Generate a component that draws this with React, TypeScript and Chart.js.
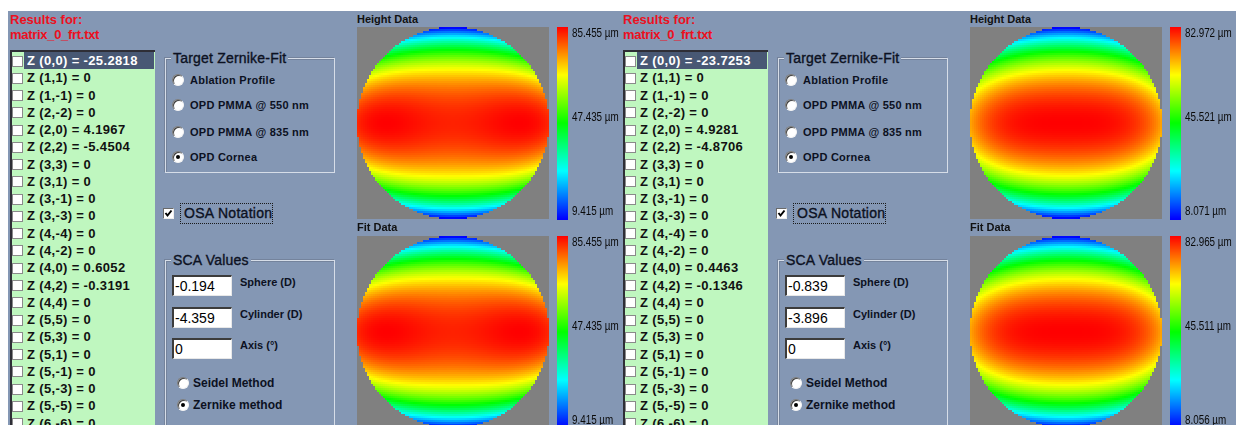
import React, { useEffect, useRef } from "react";
import { Chart, registerables } from "chart.js";
Chart.register(...registerables);

// ---------- data ----------
const fileName = "matrix_0_frt.txt";
const zernikeTerms = ["(0,0)","(1,1)","(1,-1)","(2,-2)","(2,0)","(2,2)","(3,3)","(3,1)","(3,-1)","(3,-3)","(4,-4)","(4,-2)","(4,0)","(4,2)","(4,4)","(5,5)","(5,3)","(5,1)","(5,-1)","(5,-3)","(5,-5)","(6,-6)"];
const leftCoefficients = [-25.2818,0,0,0,4.1967,-5.4504,0,0,0,0,0,0,0.6052,-0.3191,0,0,0,0,0,0,0,0];
const rightCoefficients = [-23.7253,0,0,0,4.9281,-4.8706,0,0,0,0,0,0,0.4463,-0.1346,0,0,0,0,0,0,0,0];
const targetOptions = ["Ablation Profile","OPD PMMA @ 550 nm","OPD PMMA @ 835 nm","OPD Cornea"];
const scaLabels = ["Sphere (D)","Cylinder (D)","Axis (°)"];
const leftSca = ["-0.194","-4.359","0"];
const rightSca = ["-0.839","-3.896","0"];
const methodOptions = ["Seidel Method","Zernike method"];
const leftHeightTicks = [85.455, 47.435, 9.415];
const leftFitTicks = [85.455, 47.435, 9.415];
const rightHeightTicks = [82.972, 45.521, 8.071];
const rightFitTicks = [82.965, 45.511, 8.056];

const BG = "rgb(132,151,180)";
const FONT = "'Liberation Sans', Arial, sans-serif";
const INK = "#0c1122";

// ---------- Zernike surface from the listed coefficients ----------
function fact(n: number): number { let r = 1; for (let i = 2; i <= n; i++) r *= i; return r; }
function zernike(n: number, m: number, r: number, th: number): number {
  const am = Math.abs(m);
  let R = 0;
  for (let k = 0; k <= (n - am) / 2; k++) {
    R += ((k % 2 ? -1 : 1) * fact(n - k)) / (fact(k) * fact((n + am) / 2 - k) * fact((n - am) / 2 - k)) * Math.pow(r, n - 2 * k);
  }
  const N = Math.sqrt((2 * (n + 1)) / (m === 0 ? 2 : 1));
  return N * R * (m >= 0 ? Math.cos(am * th) : Math.sin(am * th));
}
const GRID = 96;
function buildCells(coeffs: number[], vmin: number, vmax: number) {
  const terms = zernikeTerms.map((t) => t.replace(/[()]/g, "").split(",").map(Number));
  const raw: { x: number; y: number; w: number }[] = [];
  for (let i = 0; i < GRID; i++) {
    for (let j = 0; j < GRID; j++) {
      const x = -1 + ((i + 0.5) * 2) / GRID;
      const y = -1 + ((j + 0.5) * 2) / GRID;
      const r = Math.hypot(x, y);
      if (r > 1) continue;
      const th = Math.atan2(y, x);
      let w = 0;
      terms.forEach(([n, m], k) => { if (coeffs[k]) w += coeffs[k] * zernike(n, m, r, th); });
      raw.push({ x, y, w });
    }
  }
  let wmin = Infinity, wmax = -Infinity;
  raw.forEach((c) => { wmin = Math.min(wmin, c.w); wmax = Math.max(wmax, c.w); });
  return raw.map((c) => ({ x: c.x, y: c.y, v: vmin + ((wmax - c.w) / (wmax - wmin)) * (vmax - vmin) }));
}
function hue(t: number) {
  const tt = Math.max(0, Math.min(1, t));
  return `hsl(${240 * (1 - tt)},100%,50%)`;
}

const heatPlugin = {
  id: "heat",
  beforeDatasetsDraw(chart: any) {
    const { ctx, chartArea: a, scales } = chart;
    const { x, y, cb } = scales;
    const vmin = cb.min, vmax = cb.max;
    const h = 1 / GRID;
    ctx.save();
    ctx.fillStyle = "#808080";
    ctx.fillRect(a.left, a.top, a.right - a.left, a.bottom - a.top);
    const data = chart.data.datasets[0].data as any[];
    for (const c of data) {
      const x0 = Math.round(x.getPixelForValue(c.x - h));
      const x1 = Math.round(x.getPixelForValue(c.x + h));
      const y0 = Math.round(y.getPixelForValue(c.y + h));
      const y1 = Math.round(y.getPixelForValue(c.y - h));
      ctx.fillStyle = hue((c.v - vmin) / (vmax - vmin));
      ctx.fillRect(x0, y0, x1 - x0, y1 - y0);
    }
    // colour bar
    const bx = a.right + 8;
    const top = Math.round(cb.getPixelForValue(vmax));
    const bot = Math.round(cb.getPixelForValue(vmin)) + 1;
    for (let py = top; py < bot; py++) {
      const v = cb.getValueForPixel(py + 0.5);
      ctx.fillStyle = hue((v - vmin) / (vmax - vmin));
      ctx.fillRect(bx, py, 11, 1);
    }
    // labels
    const ticks: number[] = chart.options.plugins.heat.ticks;
    ctx.fillStyle = "#0a0a0a";
    ctx.font = `12px ${FONT}`;
    const lx = a.right + 23;
    const put = (v: number, base: string, dy: number) => {
      ctx.save();
      ctx.textBaseline = base;
      ctx.translate(lx, cb.getPixelForValue(v) + dy);
      ctx.scale(0.82, 1);
      ctx.fillText(`${v.toFixed(3)} µm`, 0, 0);
      ctx.restore();
    };
    put(ticks[0], "top", 1);
    put(ticks[1], "middle", -5);
    put(ticks[2], "bottom", -1);
    ctx.restore();
  },
};

function Heatmap({ left, top, coeffs, ticks }: { left: number; top: number; coeffs: number[]; ticks: number[] }) {
  const ref = useRef<HTMLCanvasElement>(null);
  useEffect(() => {
    const cells = buildCells(coeffs, ticks[2], ticks[0]);
    const chart = new Chart(ref.current as HTMLCanvasElement, {
      type: "scatter",
      data: { datasets: [{ data: cells as any, pointRadius: 0, pointHoverRadius: 0 }] },
      options: {
        animation: false,
        responsive: false,
        devicePixelRatio: 1,
        events: [],
        layout: { padding: { left: 0, top: 0, right: 70, bottom: 2 } },
        plugins: { legend: { display: false }, tooltip: { enabled: false }, heat: { ticks } } as any,
        scales: {
          x: { type: "linear", min: -1, max: 1, display: false },
          y: { type: "linear", min: -1, max: 1, display: false },
          cb: { type: "linear", axis: "y", position: "right", min: ticks[2], max: ticks[0], display: false } as any,
        },
      },
      plugins: [heatPlugin as any],
    });
    return () => chart.destroy();
  }, []);
  return <canvas ref={ref} width={262} height={194} style={{ position: "absolute", left, top, width: 262, height: 194 }} />;
}

// ---------- small UI helpers ----------
function Txt({ x, cy, size = 11, bold = false, color = INK, ls = 0, stroke = 0, children }: any) {
  return (
    <div style={{ position: "absolute", left: x, top: cy - 9, height: 18, lineHeight: "18px", fontSize: size, fontWeight: bold ? 700 : 400, color, fontFamily: FONT, whiteSpace: "nowrap", letterSpacing: ls, WebkitTextStroke: stroke ? `${stroke}px ${color}` : undefined }}>
      {children}
    </div>
  );
}
function Radio({ cx, cy, on }: { cx: number; cy: number; on: boolean }) {
  return (
    <div style={{ position: "absolute", left: cx - 6, top: cy - 6, width: 12, height: 12, boxSizing: "border-box", borderRadius: "50%", background: "#fff", borderStyle: "solid", borderWidth: 1, borderColor: "#7a7a7a #f4f4f4 #f4f4f4 #7a7a7a", boxShadow: "inset 1px 1px 0 #404040" }}>
      {on && <div style={{ position: "absolute", left: 3, top: 3, width: 4, height: 4, borderRadius: "50%", background: "#000" }} />}
    </div>
  );
}
function Group({ x, y, w, h, title, size }: any) {
  return (
    <>
      <div style={{ position: "absolute", left: x, top: y, width: w, height: h, boxSizing: "border-box", border: "1px solid #d6dde8", boxShadow: "inset 1px 1px 0 #74839c, -1px -1px 0 #74839c" }} />
      <div style={{ position: "absolute", left: x + 6, top: y - 9, height: 18, lineHeight: "18px", padding: "0 2px", background: BG, fontSize: size, color: INK, fontFamily: FONT, whiteSpace: "nowrap", letterSpacing: 0.2, WebkitTextStroke: `0.35px ${INK}` }}>{title}</div>
    </>
  );
}

function Panel({ ox, coeffs, sca, heightTicks, fitTicks }: any) {
  const rowH = 17.27;
  return (
    <>
      <Txt x={ox + 10} cy={20} size={13} bold color="#ec1020">Results for:</Txt>
      <Txt x={ox + 10} cy={35} size={13} bold color="#ec1020" ls={-0.3}>{fileName}</Txt>
      {/* list box */}
      <div style={{ position: "absolute", left: ox + 10, top: 50, width: 145, height: 400, boxSizing: "border-box", background: "#bff7bf", borderLeft: "2px solid #2e2e36", borderTop: "2px solid #2e2e36" }} />
      {zernikeTerms.map((t, i) => {
        const cy = 61 + i * rowH;
        const val = coeffs[i];
        return (
          <React.Fragment key={t}>
            {i === 0 && <div style={{ position: "absolute", left: ox + 24, top: 52, width: 130, height: 17, background: "#485874" }} />}
            <div style={{ position: "absolute", left: ox + 12, top: Math.round(cy - 5.5), width: 11, height: 11, boxSizing: "border-box", background: "#fff", border: "1px solid #8a8a8a" }} />
            <Txt x={ox + 27} cy={cy} size={13} bold ls={0.35} color={i === 0 ? "#fff" : "#111"}>{`Z ${t} = ${val === 0 ? "0" : val.toFixed(4)}`}</Txt>
          </React.Fragment>
        );
      })}
      {/* target group */}
      <Group x={ox + 165} y={58} w={170} h={115} title="Target Zernike-Fit" size={14} />
      {targetOptions.map((o, i) => {
        const cy = [80, 105, 132, 157][i];
        return (
          <React.Fragment key={o}>
            <Radio cx={ox + 178} cy={cy} on={i === 3} />
            <Txt x={ox + 190} cy={cy} size={11} bold ls={0.25}>{o}</Txt>
          </React.Fragment>
        );
      })}
      {/* OSA checkbox */}
      <div style={{ position: "absolute", left: ox + 163, top: 208, width: 11, height: 11, boxSizing: "border-box", background: "#fff", borderStyle: "solid", borderWidth: 1, borderColor: "#6a6a6a #eee #eee #6a6a6a" }}>
        <svg width="9" height="9" style={{ position: "absolute", left: 0, top: 0 }}>
          <path d="M1.5 4 L3.5 6.5 L7.5 1.5" stroke="#000" strokeWidth="2" fill="none" />
        </svg>
      </div>
      <div style={{ position: "absolute", left: ox + 180, top: 203, width: 93, height: 21, boxSizing: "border-box", border: "1px dotted #1a1a1a" }} />
      <Txt x={ox + 184} cy={213} size={14} ls={0.3} stroke={0.35}>OSA Notation</Txt>
      {/* SCA group */}
      <Group x={ox + 165} y={260} w={170} h={200} title="SCA Values" size={14} />
      {scaLabels.map((l, i) => {
        const top = [275, 307, 338][i];
        return (
          <React.Fragment key={l}>
            <div style={{ position: "absolute", left: ox + 172, top, width: 60, height: 21, boxSizing: "border-box", background: "#fff", borderStyle: "solid", borderWidth: "2px 1px 1px 2px", borderColor: "#3c3c3c #e8e8e8 #e8e8e8 #3c3c3c" }} />
            <Txt x={ox + 175} cy={top + 11} size={14} color="#000">{sca[i]}</Txt>
            <Txt x={ox + 240} cy={top + 7} size={11} bold>{l}</Txt>
          </React.Fragment>
        );
      })}
      {methodOptions.map((m, i) => {
        const cy = [383, 405][i];
        return (
          <React.Fragment key={m}>
            <Radio cx={ox + 183} cy={cy} on={i === 1} />
            <Txt x={ox + 193} cy={cy} size={12} bold>{m}</Txt>
          </React.Fragment>
        );
      })}
      {/* maps */}
      <Txt x={ox + 357} cy={19} size={11} bold color="#111">Height Data</Txt>
      <Heatmap left={ox + 357} top={27} coeffs={coeffs} ticks={heightTicks} />
      <Txt x={ox + 357} cy={227} size={11} bold color="#111">Fit Data</Txt>
      <Heatmap left={ox + 357} top={236} coeffs={coeffs} ticks={fitTicks} />
    </>
  );
}

export default function App() {
  return (
    <div style={{ position: "fixed", left: 0, top: 0, width: 1236, height: 425, overflow: "hidden", background: "#fff" }}>
      <div style={{ position: "absolute", left: 8, top: 11, right: 0, bottom: 0, background: BG }} />
      <Panel ox={0} coeffs={leftCoefficients} sca={leftSca} heightTicks={leftHeightTicks} fitTicks={leftFitTicks} />
      <Panel ox={613} coeffs={rightCoefficients} sca={rightSca} heightTicks={rightHeightTicks} fitTicks={rightFitTicks} />
    </div>
  );
}
